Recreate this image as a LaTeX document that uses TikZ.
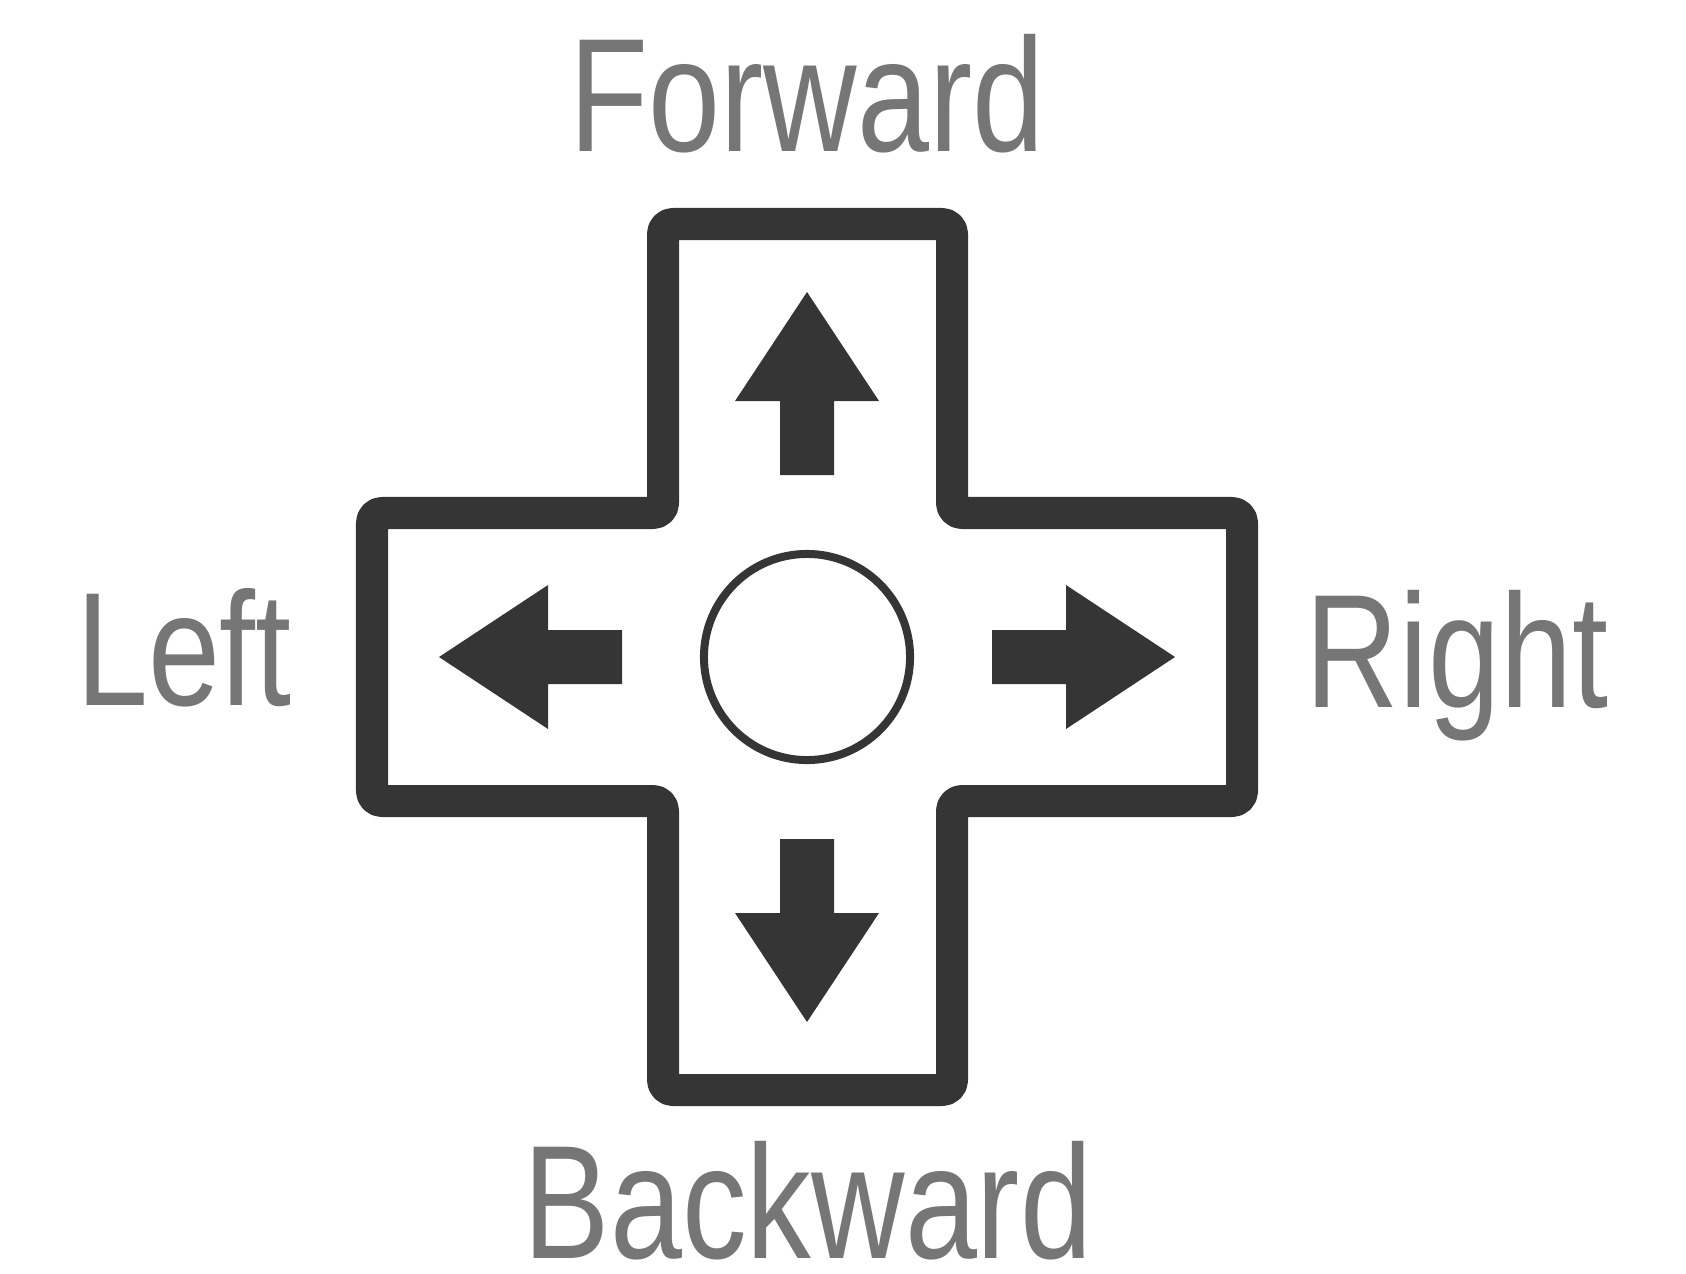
\documentclass[tikz,border=0pt]{standalone}
\usepackage{fontspec}
\newfontfamily\labelfont{Liberation Sans}
\usetikzlibrary{positioning}
\definecolor{padgray}{HTML}{353535}
\definecolor{labelgray}{HTML}{767676}
\tikzset{
  pad/.style={draw=padgray,line width=0.32cm,rounded corners=0.1cm,line join=round},
  hub/.style={circle,draw=padgray,line width=0.08cm,minimum size=2.06cm,inner sep=0pt},
  dirlabel/.style={font=\labelfont\fontsize{46}{46}\selectfont,text=labelgray,anchor=base,inner sep=0pt,xscale=0.8,transform shape},
  dirarrow/.pic={
    \fill[padgray] (0,0) -- (-109,72) -- (-109,27) -- (-183,27) -- (-183,-27)
      -- (-109,-27) -- (-109,-72) -- cycle;
  }
}

\begin{document}
\begin{tikzpicture}[x=0.01cm,y=-0.01cm]
\useasboundingbox (0,0) rectangle (1686,1273);
% cross outline
\draw[pad] (663,224) -- (952,224) -- (952,513) -- (1242,513) -- (1242,801)
  -- (952,801) -- (952,1090) -- (663,1090) -- (663,801) -- (372,801)
  -- (372,513) -- (663,513) -- cycle;
\node[hub] (hub) at (807,657) {};
% direction arrows
\pic[rotate=90] (up) at (807,292) {dirarrow};
\pic[rotate=-90] (down) at (807,1022) {dirarrow};
\pic[rotate=180] (lt) at (439,657) {dirarrow};
\pic (rt) at (1175,657) {dirarrow};
% labels
\node[dirlabel] (fwd) at (807,152) {Forward};
\node[dirlabel] (left) at (184,705) {Left};
\node[dirlabel] (right) at (1457,707) {Right};
\node[dirlabel] (back) at (808,1258) {Backward};
\end{tikzpicture}
\end{document}
